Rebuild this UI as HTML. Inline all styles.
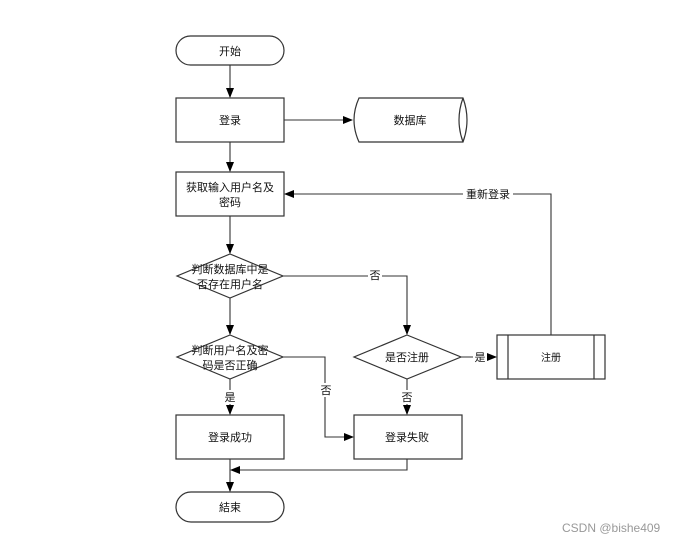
<!DOCTYPE html>
<html><head><meta charset="utf-8"><style>
body{margin:0;background:#fff}
svg text{font-family:"Liberation Sans","Noto Sans CJK SC",sans-serif;font-size:11px;fill:#111}
</style></head><body>
<svg width="686" height="542" xmlns="http://www.w3.org/2000/svg">
<defs><marker id="a" markerWidth="10" markerHeight="8" refX="9" refY="4" orient="auto" markerUnits="userSpaceOnUse"><path d="M0,0 L10,4 L0,8z" fill="#000"/></marker></defs>
<g fill="none" stroke="#333" stroke-width="1.2">
<rect x="176" y="36" width="108" height="29" rx="14.5"/>
<rect x="176" y="98" width="108" height="44"/>
<path d="M359,98 H463 Q471,120 463,142 H359 Q349,120 359,98Z"/>
<path d="M463,98 Q455,120 463,142"/>
<rect x="176" y="172" width="108" height="44"/>
<path d="M230,254 L283,276 L230,298 L177,276Z"/>
<path d="M230,335 L283,357 L230,379 L177,357Z"/>
<path d="M407,335 L461,357 L407,379 L354,357Z"/>
<rect x="497" y="335" width="108" height="44"/>
<path d="M508,335 V379 M594,335 V379"/>
<rect x="176" y="415" width="108" height="44"/>
<rect x="354" y="415" width="108" height="44"/>
<rect x="176" y="492" width="108" height="30" rx="15"/>
</g>
<g fill="none" stroke="#333" stroke-width="1.1" marker-end="url(#a)">
<path d="M230,65 V97"/>
<path d="M284,120 H352"/>
<path d="M230,142 V171"/>
<path d="M230,216 V253"/>
<path d="M230,298 V334"/>
<path d="M283,276 H407 V334"/>
<path d="M283,357 H325 V437 H353"/>
<path d="M461,357 H496"/>
<path d="M551,335 V194 H285"/>
<path d="M230,379 V414"/>
<path d="M407,379 V414"/>
<path d="M230,459 V491"/>
<path d="M407,459 V470 H231"/>
</g>
<g text-anchor="middle">
<text x="230" y="55">开始</text>
<text x="230" y="124">登录</text>
<text x="410" y="124">数据库</text>
<text x="230" y="191">获取输入用户名及</text>
<text x="230" y="206">密码</text>
<text x="230" y="273">判断数据库中是</text>
<text x="230" y="288">否存在用户名</text>
<text x="230" y="354">判断用户名及密</text>
<text x="230" y="369">码是否正确</text>
<text x="407" y="361">是否注册</text>
<text x="551" y="361" style="font-size:10px">注册</text>
<text x="230" y="441">登录成功</text>
<text x="407" y="441">登录失败</text>
<text x="230" y="511">結束</text>
</g>
<g text-anchor="middle">
<rect x="368" y="268" width="14" height="14" fill="#fff"/><text x="375" y="279">否</text>
<rect x="223" y="390" width="14" height="14" fill="#fff"/><text x="230" y="401">是</text>
<rect x="319" y="383" width="14" height="14" fill="#fff"/><text x="326" y="394">否</text>
<rect x="400" y="390" width="14" height="14" fill="#fff"/><text x="407" y="401">否</text>
<rect x="473" y="350" width="14" height="14" fill="#fff"/><text x="480" y="361">是</text>
<rect x="463" y="187" width="50" height="14" fill="#fff"/><text x="488" y="198">重新登录</text>
</g>
<text x="562" y="532" style="font-size:12px;fill:#999">CSDN @bishe409</text>
</svg>
</body></html>
